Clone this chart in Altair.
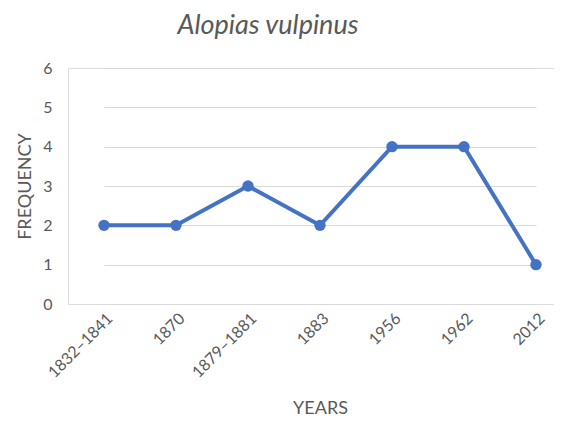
import altair as alt
import pandas as pd

years = ["1832–1841", "1870", "1879–1881", "1883", "1956", "1962", "2012"]
frequency = [2, 2, 3, 2, 4, 4, 1]
y_ticks = [0, 1, 2, 3, 4, 5, 6]

df = pd.DataFrame({"YEARS": years, "FREQUENCY": frequency})

FONT = "Lato"
GREY = "#595959"
BLUE = "#4472C4"

base = alt.Chart(df).encode(
    x=alt.X(
        "YEARS:N",
        sort=years,
        scale=alt.Scale(type="point", range=[36, 468], padding=0),
        axis=alt.Axis(
            title="YEARS",
            labelAngle=-45,
            labelFontSize=16,
            labelColor=GREY,
            labelFont=FONT,
            labelPadding=6,
            domain=False,
            ticks=False,
            grid=False,
            titleFont=FONT,
            titleFontSize=18,
            titleFontWeight="normal",
            titleColor=GREY,
            titleX=252,
            titleY=104,
            titleBaseline="middle",
        ),
    ),
    y=alt.Y(
        "FREQUENCY:Q",
        scale=alt.Scale(domain=[0, 6], nice=False),
        axis=alt.Axis(
            title="FREQUENCY",
            values=y_ticks,
            format="d",
            labelFontSize=16,
            labelColor=GREY,
            labelFont=FONT,
            labelPadding=16,
            tickSize=0,
            ticks=False,
            domain=False,
            gridColor="#d9d9d9",
            gridWidth=1.2,
            titleFont=FONT,
            titleFontSize=18,
            titleFontWeight="normal",
            titleColor=GREY,
            titleX=-43,
            titleY=118,
            titleBaseline="middle",
        ),
    ),
)

line = base.mark_line(color=BLUE, strokeWidth=4)
pts = base.mark_circle(color=BLUE, size=130, opacity=1)

chart = (
    (line + pts)
    .properties(
        width=486,
        height=236,
        padding={"left": 60, "top": 60, "right": 0, "bottom": 112},
        autosize=alt.AutoSizeParams(type="none"),
        title=alt.TitleParams(
            "Alopias vulpinus",
            font=FONT,
            fontSize=27,
            fontStyle="italic",
            fontWeight="normal",
            color=GREY,
            dx=-43,
            offset=20,
        ),
    )
    .configure_view(stroke=None)
    .configure(background="white")
)

chart.save("out.html", embed_options={"renderer": "svg", "actions": False})
